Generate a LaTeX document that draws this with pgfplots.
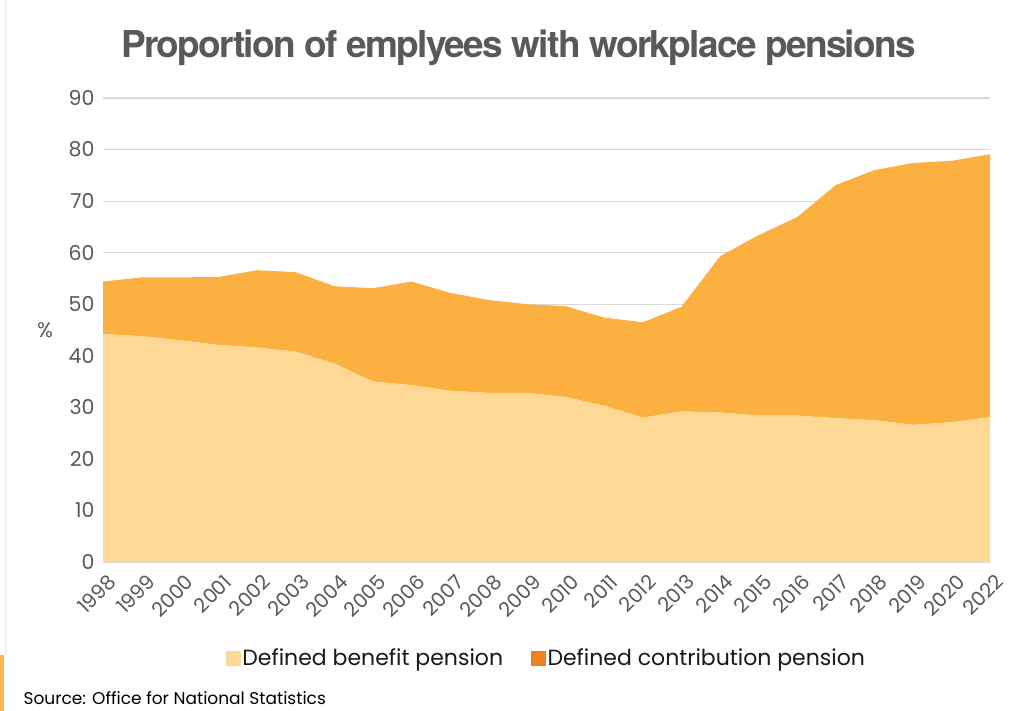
\documentclass[border=0pt]{standalone}
\usepackage{fontspec}
\setmainfont{Poppins}
\newfontfamily\titlefont[LetterSpace=-4.5]{TeX Gyre Heros}
\usepackage{pgfplots}
\usepackage{pgfplotstable}
\pgfplotsset{compat=1.18}
\definecolor{db}{HTML}{FDD995}
\definecolor{dc}{HTML}{FBB040}
\definecolor{dcleg}{HTML}{F07F22}
\definecolor{txt}{HTML}{595959}
\definecolor{gridc}{HTML}{D9D9D9}

\pgfplotstableread{
x db dc
0 44.2 10.2
1 43.8 11.4
2 43.0 12.2
3 42.1 13.2
4 41.6 15.0
5 40.8 15.4
6 38.5 15.0
7 35.0 18.1
8 34.3 20.1
9 33.2 19.0
10 32.8 18.0
11 32.8 17.2
12 32.0 17.6
13 30.3 17.1
14 28.0 18.5
15 29.2 20.3
16 29.0 30.3
17 28.4 35.0
18 28.4 38.5
19 27.9 45.2
20 27.5 48.5
21 26.6 50.8
22 27.1 50.7
23 28.1 51.0
}\data

\begin{document}
\begin{tikzpicture}[x=1pt,y=1pt]
\useasboundingbox (0,0) rectangle (1021,711);
\fill[white] (0,0) rectangle (1021,711);
\fill[gridc!60!white] (4.5,56) rectangle (5.5,711);
\fill[dc!90!white] (0,0) rectangle (4,56);
\node[font=\titlefont\bfseries\fontsize{37}{40}\selectfont, text=txt, anchor=base] at (518.5,653) {Proportion of emplyees with workplace pensions};
\node[font=\fontsize{21}{24}\selectfont, text=txt] at (45,381) {\%};
\node[font=\fontsize{17}{20}\selectfont, anchor=base west, text=black] at (20,6) {Source: Office for National Statistics};
\begin{axis}[
  at={(103pt,149pt)}, anchor=south west,
  scale only axis, width=887pt, height=464pt,
  xmin=0, xmax=23, ymin=0, ymax=90,
  stack plots=y,
  axis line style={draw=none},
  major tick length=0pt,
  ytick={0,10,...,90},
  ymajorgrids, grid style={gridc, line width=1.2pt},
  xtick={0,...,23},
  xticklabels={1998,1999,2000,2001,2002,2003,2004,2005,2006,2007,2008,2009,2010,2011,2012,2013,2014,2015,2016,2017,2018,2019,2020,2022},
  /pgf/number format/assume math mode=true,
  yticklabel style={font=\fontsize{20.5}{24}\selectfont, text=txt, xshift=-5pt},
  xticklabel style={font=\fontsize{20}{22}\selectfont, text=txt, xshift=12pt, yshift=-14pt, rotate=45, anchor=east},
  legend style={draw=none, fill=none, at={(0.5,-0.2069)}, anchor=center, legend columns=2,
    font=\fontsize{22}{26}\selectfont, text=black!90,
    /tikz/every even column/.append style={column sep=26pt}},
  legend cell align=left,
]
\addplot[fill=db, draw=none, forget plot] table[x=x,y=db]{\data} \closedcycle;
\addplot[fill=dc, draw=none, forget plot] table[x=x,y=dc]{\data} \closedcycle;
\addlegendimage{legend image code/.code={\fill[db] (0pt,-7pt) rectangle (14pt,7pt);}}
\addlegendentry{Defined benefit pension}
\addlegendimage{legend image code/.code={\fill[dcleg] (0pt,-7pt) rectangle (14pt,7pt);}}
\addlegendentry{Defined contribution pension}
\end{axis}
\end{tikzpicture}
\end{document}
